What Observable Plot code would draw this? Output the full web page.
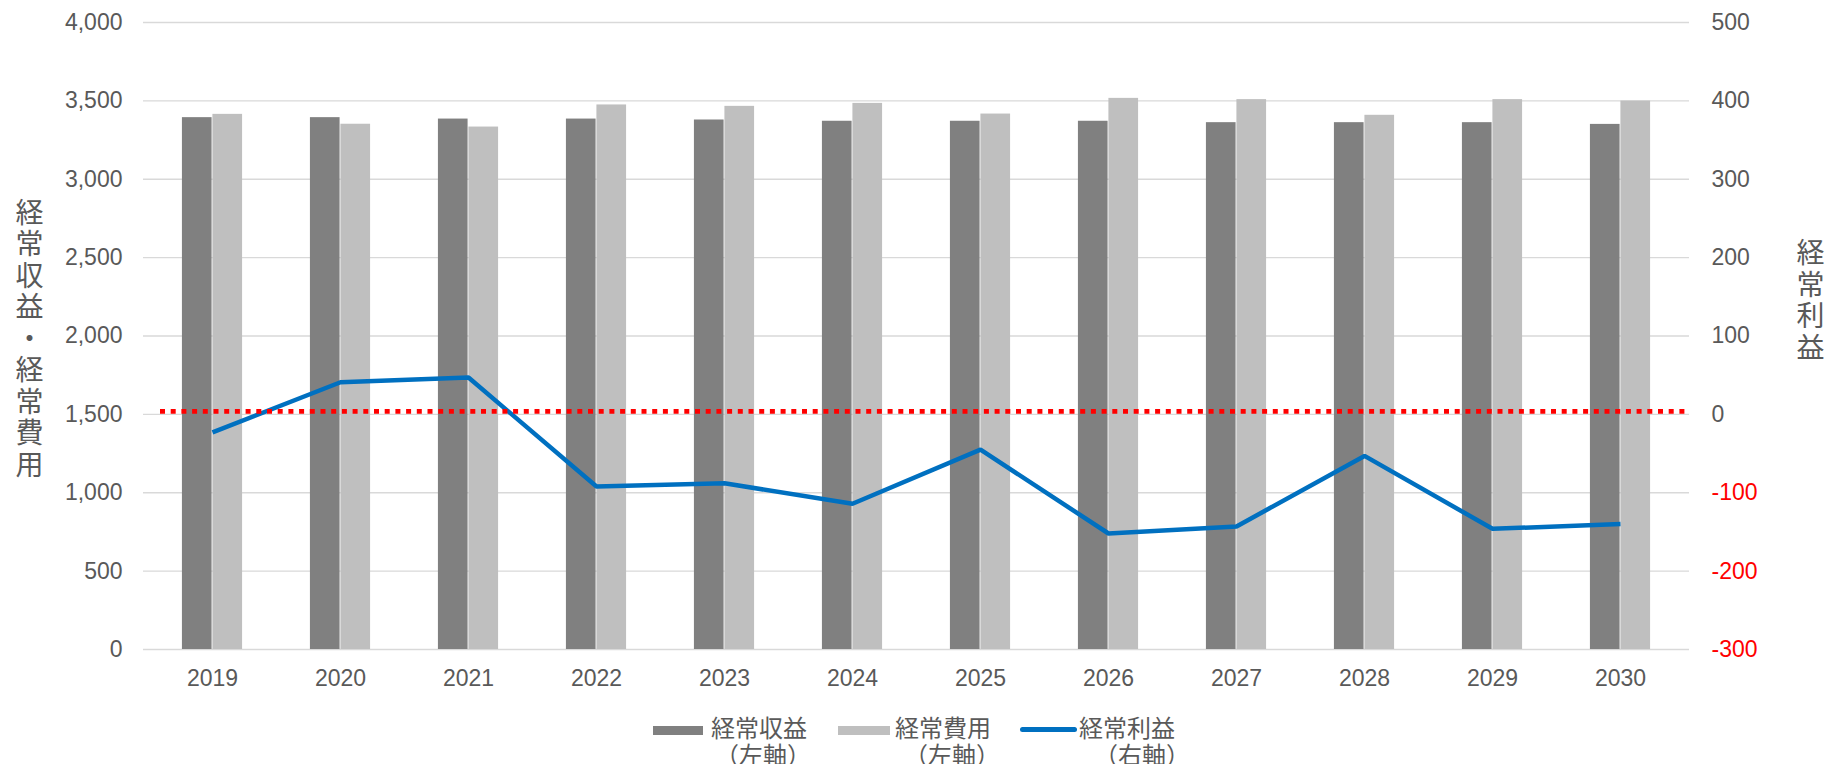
<!DOCTYPE html>
<html><head><meta charset="utf-8">
<script src="https://cdn.jsdelivr.net/npm/d3@7"></script>
<script src="https://cdn.jsdelivr.net/npm/@observablehq/plot@0.6"></script>
<style>
html,body{margin:0;padding:0;overflow:hidden;background:#fff;width:1839px;height:764px}
#wrap{position:relative;width:1839px;height:764px}
.lg{position:absolute;font-family:"Noto Sans CJK JP",sans-serif;font-size:24px;line-height:24px;color:#595959;white-space:nowrap}
.sw{position:absolute}
svg{display:block}
</style></head><body><div id="wrap"></div>
<script>
// ---- data ----
const years = [2019, 2020, 2021, 2022, 2023, 2024, 2025, 2026, 2027, 2028, 2029, 2030];
const revenue = [3393, 3393, 3384, 3384, 3378, 3370, 3370, 3370, 3361, 3361, 3361, 3350]; // 経常収益（左軸）
const expense = [3414, 3351, 3333, 3474, 3465, 3484, 3416, 3516, 3508, 3408, 3508, 3499]; // 経常費用（左軸）
const profit  = [-23, 41, 47, -92, -88, -114, -45, -152, -143, -53, -146, -140];          // 経常利益（右軸）
const leftTicks  = [0, 500, 1000, 1500, 2000, 2500, 3000, 3500, 4000];
const rightTicks = [-300, -200, -100, 0, 100, 200, 300, 400, 500];
const leftTitle  = "経常収益・経常費用";
const rightTitle = "経常利益";
const seriesNames = ["経常収益", "経常費用", "経常利益"];
const axisNotes   = ["（左軸）", "（左軸）", "（右軸）"];

// ---- layout ----
const W = 1839, H = 705, ML = 143, MR = 150, MT = 22, MB = 56;
const bandW = (W - ML - MR) / years.length;
const barW = 30.5, half = bandW / 2;
const leftMax = leftTicks[leftTicks.length - 1];
const rMin = rightTicks[0], rMax = rightTicks[rightTicks.length - 1];
const toLeft = v => (v - rMin) * leftMax / (rMax - rMin);
const toRight = y => Math.round(y * (rMax - rMin) / leftMax + rMin);

const data = years.map((y, i) => ({year: String(y), rev: revenue[i], exp: expense[i], prof: profit[i]}));
const posTicks = rightTicks.filter(v => v >= 0).map(toLeft);
const negTicks = rightTicks.filter(v => v < 0).map(toLeft);

const cjk = "Noto Sans CJK JP";
const gray = "#595959";

const chart = Plot.plot({
  width: W, height: H,
  marginLeft: ML, marginRight: MR, marginTop: MT, marginBottom: MB,
  style: {fontFamily: "Liberation Sans, Arial, sans-serif", fontSize: "23px", color: gray, background: "#fff"},
  x: {type: "band", domain: data.map(d => d.year), padding: 0, label: null},
  y: {domain: [0, leftMax], label: null},
  marks: [
    Plot.gridY(leftTicks, {stroke: "#d9d9d9", strokeOpacity: 1, strokeWidth: 1.3}),
    Plot.barY(data, {x: "year", y: "rev", fill: "#808080", insetLeft: half - barW, insetRight: half}),
    Plot.barY(data, {x: "year", y: "exp", fill: "#bfbfbf", insetLeft: half, insetRight: half - barW}),
    Plot.line(data, {x: "year", y: d => toLeft(d.prof), stroke: "#0070c0", strokeWidth: 4.5, strokeLinejoin: "miter", strokeLinecap: "butt"}),
    Plot.ruleY([toLeft(0)], {stroke: "#ff0000", strokeWidth: 4.7, strokeDasharray: "5 5.7", insetLeft: 17, dy: -3}),
    Plot.axisY(leftTicks, {anchor: "left", tickSize: 0, tickPadding: 21, tickFormat: d3.format(","), fill: gray, fontSize: 23, label: null}),
    Plot.axisY(posTicks, {anchor: "right", tickSize: 0, tickPadding: 22, tickFormat: toRight, fill: gray, fontSize: 23, label: null}),
    Plot.axisY(negTicks, {anchor: "right", tickSize: 0, tickPadding: 22, tickFormat: toRight, fill: "#ff0000", fontSize: 23, label: null}),
    Plot.axisX({tickSize: 0, tickPadding: 20, fill: gray, fontSize: 23, label: null}),
    Plot.text([leftTitle.split("").join("\n")], {frameAnchor: "left", textAnchor: "middle", dx: -114, dy: 2.5, lineHeight: 1.125, fontSize: 28, fontFamily: cjk, fill: gray}),
    Plot.text([rightTitle.split("").join("\n")], {frameAnchor: "right", textAnchor: "middle", dx: 121, dy: -35.5, lineHeight: 1.125, fontSize: 28, fontFamily: cjk, fill: gray})
  ]
});
const wrap = document.getElementById("wrap");
wrap.appendChild(chart);

// ---- legend ----
const legendItems = [
  {sw: {left: 653, top: 726, width: 50, height: 9, background: "#808080"}, text: 711, note: 715},
  {sw: {left: 838, top: 726, width: 52, height: 9, background: "#bfbfbf"}, text: 895, note: 904},
  {sw: {left: 1020, top: 727, width: 57, height: 5, background: "#0070c0", borderRadius: "3px"}, text: 1079, note: 1094}
];
legendItems.forEach((it, i) => {
  const s = document.createElement("div");
  s.className = "sw";
  for (const k in it.sw) s.style[k] = typeof it.sw[k] === "number" ? it.sw[k] + "px" : it.sw[k];
  wrap.appendChild(s);
  const t1 = document.createElement("div");
  t1.className = "lg"; t1.textContent = seriesNames[i];
  t1.style.left = it.text + "px"; t1.style.top = "715px";
  wrap.appendChild(t1);
  const t2 = document.createElement("div");
  t2.className = "lg"; t2.textContent = axisNotes[i];
  t2.style.left = it.note + "px"; t2.style.top = "742px";
  wrap.appendChild(t2);
});
</script>
</body></html>
